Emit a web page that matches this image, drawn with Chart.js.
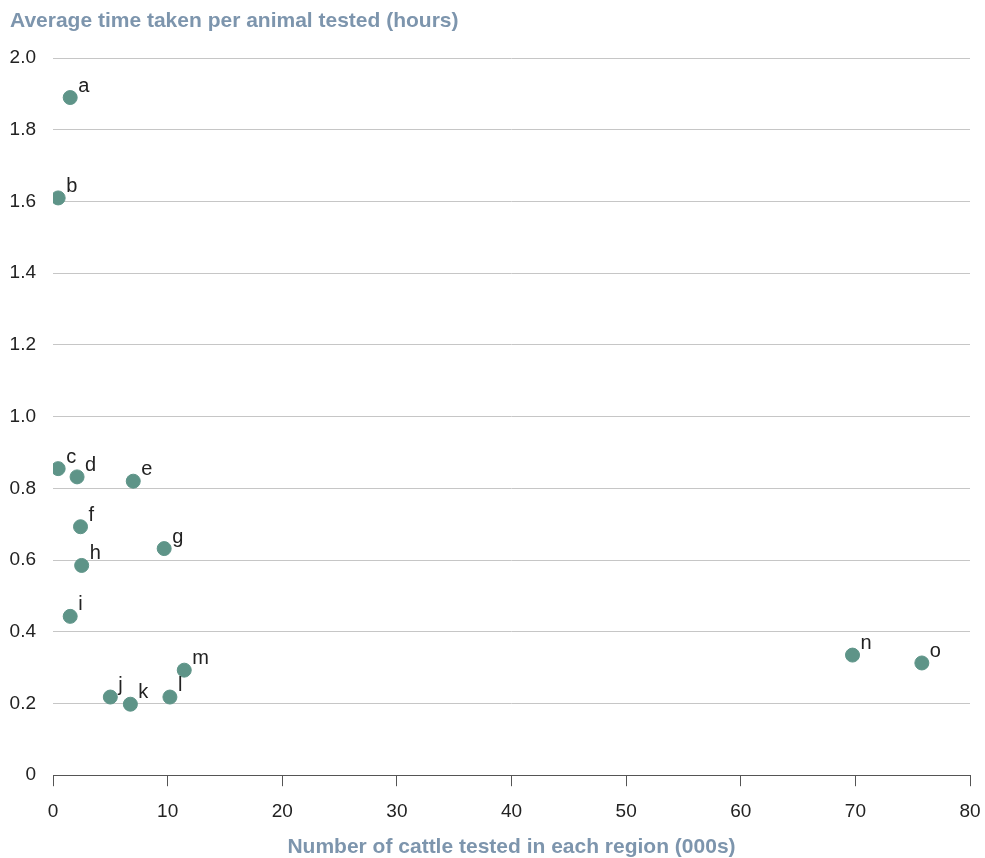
<!DOCTYPE html>
<html lang="en">
<head>
  <meta charset="UTF-8">
  <title>Cattle tested vs time per animal</title>
  <script src="https://cdn.jsdelivr.net/npm/chart.js@4.4.1/dist/chart.umd.min.js"></script>
  <style>
    body { margin: 0; background: #fff; }
    .wrap { width: 985px; height: 858px; }
  </style>
</head>
<body>

  <div class="wrap"><canvas id="scatter"></canvas></div>

  <script>

  // regions, cattle tested (000s) and average hours per animal
  const regions = ['a', 'b', 'c', 'd', 'e', 'f', 'g', 'h', 'i', 'j', 'k', 'l', 'm', 'n', 'o'];
  const cattle  = [1.5, 0.45, 0.45, 2.1, 7.0, 2.4, 9.7, 2.5, 1.5, 5.0, 6.75, 10.2, 11.45, 69.75, 75.8];
  const hours   = [1.89, 1.61, 0.855, 0.832, 0.82, 0.693, 0.632, 0.585, 0.443, 0.218, 0.198, 0.218, 0.293, 0.335, 0.313];

  const titleColor = '#7d95ad';
  const textColor = '#222';
  const font = '"Liberation Sans", Arial, Helvetica, sans-serif';

  // small letter next to each point
  const pointLabels = {
    id: 'pointLabels',
    afterDatasetsDraw(chart) {
      const ctx = chart.ctx;
      const meta = chart.getDatasetMeta(0);
      ctx.save();
      ctx.font = '20px ' + font;
      ctx.fillStyle = textColor;
      ctx.textAlign = 'left';
      ctx.textBaseline = 'alphabetic';
      meta.data.forEach((pt, i) => {
        ctx.fillText(regions[i], pt.x + 8, pt.y - 6);
      });
      ctx.restore();
    }
  };

  const ctx = document.getElementById('scatter').getContext('2d');
  const chart = new Chart(ctx, {
    type: 'scatter',
    data: {
      datasets: [{
        data: cattle.map((x, i) => ({ x: x, y: hours[i] })),
        backgroundColor: '#5e9488',
        borderColor: '#5e9488',
        borderWidth: 1,
        pointRadius: 7,
        pointHoverRadius: 7
      }]
    },
    options: {
      responsive: true,
      maintainAspectRatio: false,
      animation: false,
      layout: { padding: { left: 10, right: 15, top: 0, bottom: 0 } },
      plugins: {
        legend: { display: false },
        tooltip: { enabled: false },
        title: {
          display: true,
          text: 'Average time taken per animal tested (hours)',
          align: 'start',
          color: titleColor,
          font: { family: font, size: 21, weight: 'bold', lineHeight: 1.1 },
          padding: { top: 10, bottom: 25 }
        }
      },
      scales: {
        x: {
          type: 'linear',
          min: 0,
          max: 80,
          afterFit: scale => { scale.paddingLeft = 0; scale.paddingRight = 0; },
          ticks: {
            stepSize: 10,
            color: textColor,
            padding: 14,
            font: { family: font, size: 19 }
          },
          grid: {
            drawOnChartArea: false,
            drawTicks: true,
            tickLength: 11,
            color: '#555'
          },
          border: { display: true, color: '#555', width: 1 },
          title: {
            display: true,
            text: 'Number of cattle tested in each region (000s)',
            color: titleColor,
            font: { family: font, size: 21, weight: 'bold', lineHeight: 1.0 },
            padding: { top: 0, bottom: 0 }
          }
        },
        y: {
          min: 0,
          max: 2,
          afterFit: scale => { scale.width = 43; },
          ticks: {
            stepSize: 0.2,
            color: textColor,
            padding: 17,
            font: { family: font, size: 19 },
            callback: v => v === 0 ? '0' : v.toFixed(1)
          },
          grid: {
            drawTicks: false,
            color: c => c.tick && c.tick.value === 0 ? 'rgba(0,0,0,0)' : '#c6c6c6'
          },
          border: { display: false }
        }
      }
    },
    plugins: [pointLabels]
  });

  </script>
</body>
</html>
